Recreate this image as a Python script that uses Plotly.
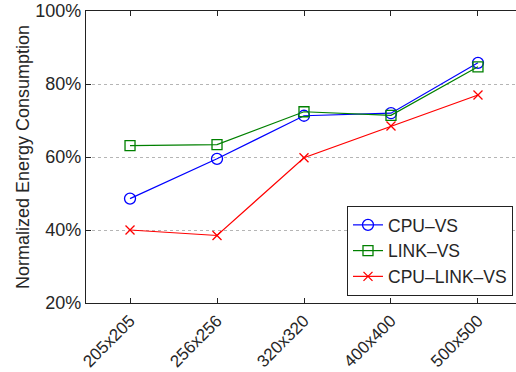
import plotly.graph_objects as go

categories = ["205x205", "256x256", "320x320", "400x400", "500x500"]
cpu_vs = [48.6, 59.5, 71.3, 72.0, 85.8]
link_vs = [63.1, 63.4, 72.4, 71.4, 84.7]
cpu_link_vs = [40.0, 38.5, 59.8, 68.5, 77.0]
y_ticks = [20, 40, 60, 80, 100]
y_tick_labels = ["20%", "40%", "60%", "80%", "100%"]

xpos = list(range(1, len(categories) + 1))
font_family = "Liberation Sans, Arial, Helvetica, sans-serif"
text_color = "#262626"

fig = go.Figure()
series = [
    ("CPU–VS", cpu_vs, "#0000ff", "circle-open", 11),
    ("LINK–VS", link_vs, "#008000", "square-open", 10),
    ("CPU–LINK–VS", cpu_link_vs, "#ff0000", "x-thin-open", 9),
]
for name, vals, color, sym, size in series:
    fig.add_trace(go.Scatter(
        x=xpos, y=vals, name=name, mode="lines+markers",
        line=dict(color=color, width=1.2),
        marker=dict(symbol=sym, size=size, color=color,
                    line=dict(color=color, width=1.3)),
    ))

fig.update_layout(
    width=516, height=372,
    margin=dict(l=86, r=0, t=11, b=69, autoexpand=False),
    paper_bgcolor="white", plot_bgcolor="white",
    font=dict(family=font_family, size=18, color=text_color),
    showlegend=True,
    legend=dict(
        x=0.993, xanchor="right", y=0.024, yanchor="bottom",
        bordercolor="#222222", borderwidth=1, bgcolor="white",
        font=dict(size=17.5, color=text_color),
        tracegroupgap=0, itemwidth=30,
    ),
)
fig.update_xaxes(
    range=[0.494, 5.437], tickvals=xpos, ticktext=categories,
    tickangle=-45, ticks="inside", ticklen=5, tickcolor="#222222",
    showline=True, linecolor="#222222", linewidth=1.2, mirror="ticks",
    showgrid=False, zeroline=False, automargin=False,
    tickfont=dict(size=17, color=text_color),
)
fig.update_yaxes(
    range=[20, 100], tickvals=y_ticks, ticktext=y_tick_labels,
    ticks="inside", ticklen=5, tickcolor="#222222",
    showline=True, linecolor="#222222", linewidth=1.2, mirror=False,
    showgrid=True, gridcolor="#b5b5b5", griddash="dot", gridwidth=1,
    zeroline=False, automargin=False,
    title=dict(text="Normalized Energy Consumption", standoff=0,
               font=dict(size=18, color=text_color)),
    tickfont=dict(size=18, color=text_color),
)

fig.write_html(
    "out.html",
    config={"displayModeBar": False},
    post_script="document.body.style.margin='0px';document.body.style.overflow='hidden';",
)
